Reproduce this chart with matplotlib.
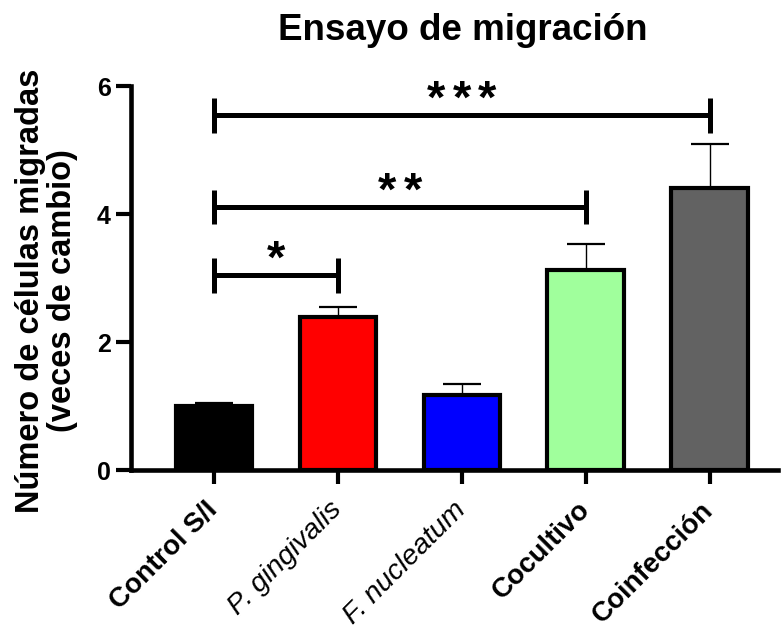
import matplotlib
matplotlib.use("Agg")
import matplotlib.pyplot as plt
import numpy as np

plt.rcParams["font.family"] = ["Liberation Sans", "DejaVu Sans"]

groups = ["Control S/I", "P. gingivalis", "F. nucleatum", "Cocultivo", "Coinfección"]
italic_groups = ["P. gingivalis", "F. nucleatum"]
means = [1.0, 2.39, 1.17, 3.13, 4.40]
sem = [0.04, 0.15, 0.17, 0.40, 0.69]
colors = ["#000000", "#ff0000", "#0000ff", "#a0ff9c", "#626262"]

# significance brackets: (left group, right group, height, stars)
brackets = [(0, 1, 3.04, 1), (0, 3, 4.11, 2), (0, 4, 5.54, 3)]

fig = plt.figure(figsize=(7.81, 6.29), dpi=100)
ax = fig.add_axes([131 / 781, 1 - 470 / 629, (778 - 131) / 781, (470 - 86) / 629])

x = np.arange(len(groups))
ax.bar(x, means, width=0.62, color=colors, edgecolor="black", linewidth=3.0, zorder=2)
ax.errorbar(x, means, yerr=[np.zeros(len(sem)), sem], fmt="none", ecolor="black",
            elinewidth=1.0, capsize=14, capthick=1.6, zorder=1)

star_step = 0.206
for i, j, h, n in brackets:
    ax.plot([i, j], [h, h], color="black", lw=3.6, solid_capstyle="butt")
    for k in (i, j):
        ax.plot([k, k], [h - 0.27, h + 0.27], color="black", lw=3.6,
                solid_capstyle="butt")
    mid = (i + j) / 2
    for s in range(n):
        sx = mid + (s - (n - 1) / 2) * star_step
        ax.text(sx, h + 0.23, "*", ha="center", va="center", fontsize=34,
                fontweight="bold")

ax.set_xlim(-0.67, 4.55)
ax.set_ylim(0, 6)
ax.set_yticks([0, 2, 4, 6])
ax.set_xticks(x)
ax.set_xticklabels(groups, rotation=45, ha="right", va="center", rotation_mode="anchor")
for lbl in ax.get_xticklabels():
    if lbl.get_text() in italic_groups:
        lbl.set_fontstyle("italic")
        lbl.set_fontsize(20.5)
    else:
        lbl.set_fontweight("bold")
        lbl.set_fontsize(20)
for lbl in ax.get_yticklabels():
    lbl.set_fontweight("bold")
    lbl.set_fontsize(18)

ax.spines["top"].set_visible(False)
ax.spines["right"].set_visible(False)
ax.spines["left"].set_linewidth(3.3)
ax.spines["bottom"].set_linewidth(3.3)
ax.tick_params(axis="y", width=3.0, length=11, pad=3.5)
ax.tick_params(axis="x", width=3.0, length=10, pad=16)

ax.set_ylabel("Número de células migradas\n(veces de cambio)", fontsize=23.5,
              fontweight="bold", linespacing=1.05)
ax.yaxis.set_label_coords(-0.082, 0.466)
ax.set_title("Ensayo de migración", fontsize=26.5, fontweight="bold", pad=33, x=0.512)

fig.savefig("out.png", dpi=100)
